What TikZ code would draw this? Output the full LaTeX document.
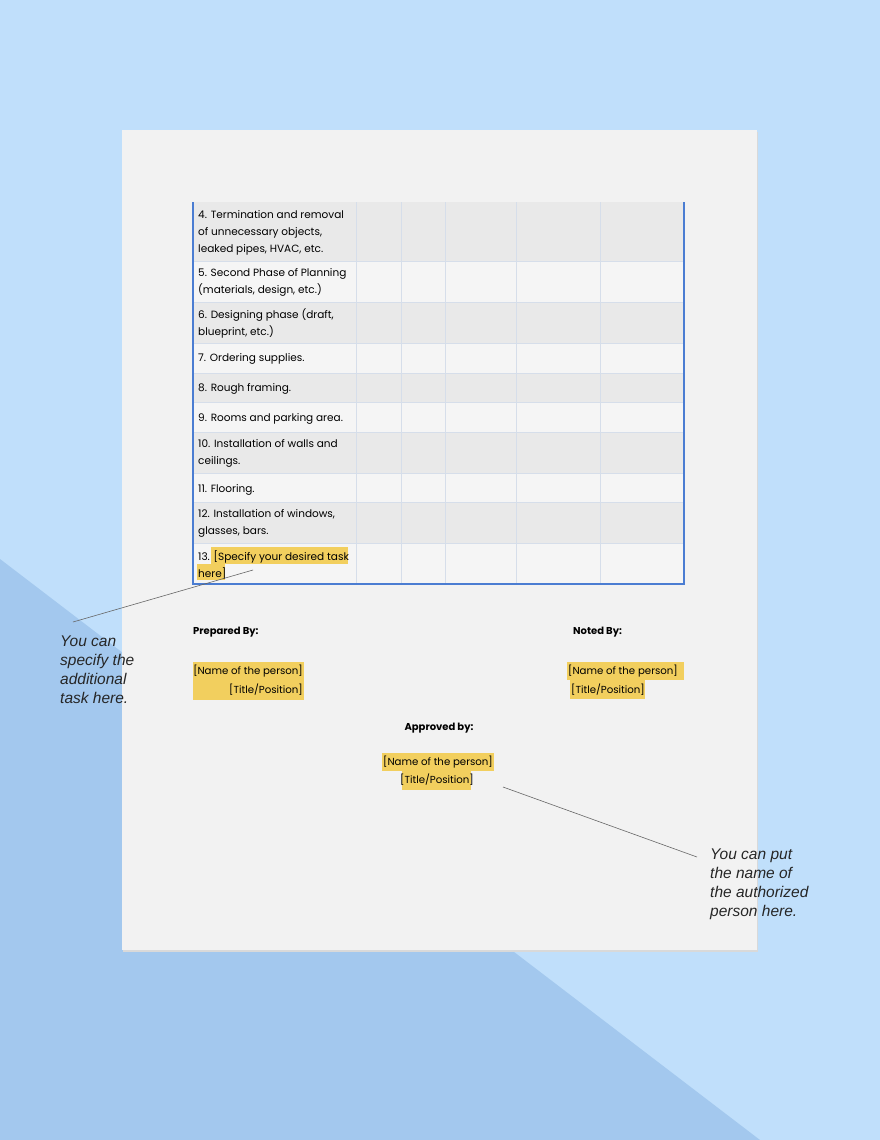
\documentclass[tikz,border=0pt]{standalone}
\usepackage{fontspec}
\setmainfont{Poppins}
\newfontfamily\note{Liberation Sans}
\definecolor{bgl}{HTML}{C0DFFB}
\definecolor{bgd}{HTML}{A3C8EE}
\definecolor{paper}{HTML}{F2F2F2}
\definecolor{rowg}{HTML}{E9E9E9}
\definecolor{roww}{HTML}{F5F5F5}
\definecolor{grid}{HTML}{D6DEEA}
\definecolor{tblue}{HTML}{4B7DD2}
\definecolor{hl}{HTML}{F2CF5E}
\begin{document}
\begin{tikzpicture}[x=1pt,y=-1pt,
  cell/.style={anchor=west,align=left,font=\fontsize{10.5}{17}\selectfont,inner sep=0pt},
  hdr/.style={font=\bfseries\fontsize{10}{12}\selectfont,inner sep=0pt},
  nt/.style={anchor=west,align=left,font=\note\itshape\fontsize{15.5}{19}\selectfont,inner sep=0pt,text=black!85},
  nm/.style={inner sep=0pt,font=\fontsize{10.2}{12}\selectfont}]
\fill[bgl] (0,0) rectangle (880,1140);
\fill[bgd] (0,559) -- (760,1140) -- (0,1140) -- cycle;
\fill[black!15] (123,132) rectangle (758,952);
\fill[paper] (122,130) rectangle (757,950);
% rows
\foreach \a/\b/\c in {202/261/rowg,261/302/roww,302/343/rowg,343/373/roww,373/402/rowg,402/432/roww,432/473/rowg,473/502/roww,502/543/rowg,543/584/roww}
  \fill[\c] (193,\a) rectangle (684,\b);
\foreach \y in {261,302,343,373,402,432,473,502,543}
  \draw[grid,line width=0.6pt] (193,\y) -- (684,\y);
\foreach \x in {356,401,445,516,600}
  \draw[grid,line width=0.6pt] (\x,202) -- (\x,584);
\draw[tblue,line width=1.2pt] (193,202) -- (193,584) -- (684,584) -- (684,202);
% cell texts
\node[cell] (r4) at (198,233) {4. Termination and removal\\of unnecessary objects,\\leaked pipes, HVAC, etc.};
\node[cell] (r5) at (198,282) {5. Second Phase of Planning\\(materials, design, etc.)};
\node[cell] (r6) at (198,323) {6. Designing phase (draft,\\blueprint, etc.)};
\node[cell] (r7) at (198,359) {7. Ordering supplies.};
\node[cell] (r8) at (198,389) {8. Rough framing.};
\node[cell] (r9) at (198,419) {9. Rooms and parking area.};
\node[cell] (r10) at (198,453) {10. Installation of walls and\\ceilings.};
\node[cell] (r11) at (198,490) {11. Flooring.};
\node[cell] (r12) at (198,523) {12. Installation of windows,\\glasses, bars.};
\fill[hl] (211,547) rectangle (348,564);
\fill[hl] (197,564) rectangle (225,580);
\node[cell] (r13) at (198,565) {13. [Specify your desired task\\here]};
% signatures
\node[hdr,anchor=west] (prep) at (193,632) {Prepared By:};
\node[hdr,anchor=west] (noted) at (573,632) {Noted By:};
\node[hdr] (appr) at (439,728) {Approved by:};
\fill[hl] (193,662) rectangle (304,700);
\node[nm,anchor=east] (pn1) at (303,671) {[Name of the person]};
\node[nm,anchor=east] (pt1) at (303,690) {[Title/Position]};
\fill[hl] (567,662) rectangle (684,680);
\fill[hl] (570,680) rectangle (645,699);
\node[nm,anchor=west] (pn2) at (568,671) {[Name of the person]};
\node[nm,anchor=west] (pt2) at (571,690) {[Title/Position]};
\fill[hl] (382,753) rectangle (494,771);
\fill[hl] (402,771) rectangle (471,790);
\node[nm] (pn3) at (438,762) {[Name of the person]};
\node[nm] (pt3) at (437,780) {[Title/Position]};
% notes
\node[nt] (n1) at (60,670) {You can\\specify the\\additional\\task here.};
\node[nt] (n2) at (710,884) {You can put\\the name of\\the authorized\\person here.};
\coordinate (c1a) at (73,622);
\coordinate (c1b) at (253,570);
\coordinate (c2a) at (503,787);
\coordinate (c2b) at (697,857);
\draw[black!60,line width=0.6pt] (c1a) -- (c1b);
\draw[black!60,line width=0.6pt] (c2a) -- (c2b);
\end{tikzpicture}
\end{document}
